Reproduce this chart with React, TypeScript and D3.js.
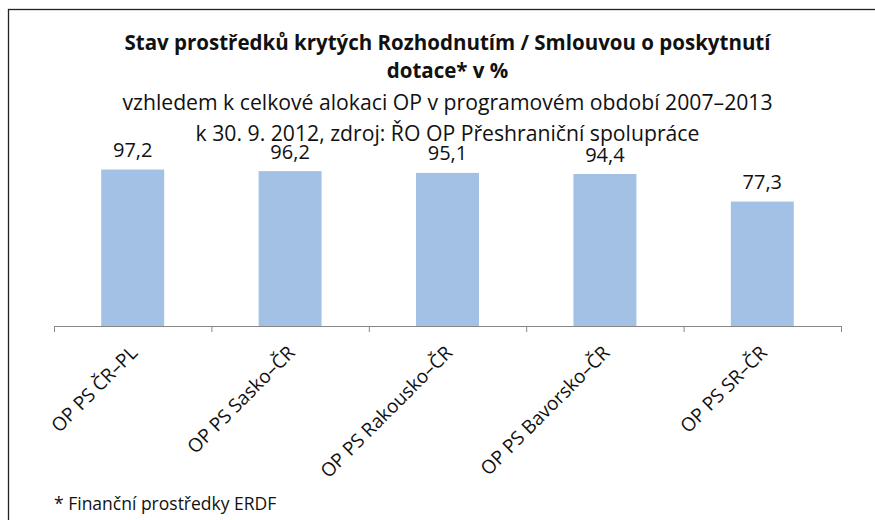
import React, { useEffect, useRef } from "react";
import * as d3 from "d3";

const categories = [
  "OP PS ČR–PL",
  "OP PS Sasko–ČR",
  "OP PS Rakousko–ČR",
  "OP PS Bavorsko–ČR",
  "OP PS SR–ČR",
];
const values = [97.2, 96.2, 95.1, 94.4, 77.3];
const titleLines = [
  "Stav prostředků krytých Rozhodnutím / Smlouvou o poskytnutí",
  "dotace* v %",
];
const subtitleLines = [
  "vzhledem k celkové alokaci OP v programovém období 2007–2013",
  "k 30. 9. 2012, zdroj: ŘO OP Přeshraniční spolupráce",
];
const footnote = "* Finanční prostředky ERDF";

const FONT = "'Open Sans', sans-serif";

const App = () => {
  const ref = useRef<SVGSVGElement>(null);

  useEffect(() => {
    const width = 875;
    const height = 520;
    const margin = { top: 165, right: 34, bottom: 194, left: 54 };

    const svg = d3.select(ref.current);
    svg.selectAll("*").remove();
    svg.attr("width", width).attr("height", height);

    // outer frame (runs off the right and bottom of the picture)
    svg
      .append("rect")
      .attr("x", 8.5)
      .attr("y", 9.5)
      .attr("width", 900)
      .attr("height", 600)
      .attr("fill", "white")
      .attr("stroke", "#222")
      .attr("stroke-width", 1.3);

    const x = d3
      .scaleBand()
      .domain(categories)
      .range([margin.left, width - margin.right])
      .paddingInner(0.6)
      .paddingOuter(0.3);

    const y = d3
      .scaleLinear()
      .domain([0, 100])
      .range([height - margin.bottom, margin.top]);

    const cx = (margin.left + width - margin.right) / 2;

    svg
      .selectAll("text.title")
      .data(titleLines)
      .join("text")
      .attr("class", "title")
      .attr("x", cx)
      .attr("y", (d, i) => 50 + i * 28)
      .attr("text-anchor", "middle")
      .attr("font-family", FONT)
      .attr("font-weight", "bold")
      .attr("font-size", 20.5)
      .attr("fill", "#111")
      .text((d) => d);

    svg
      .selectAll("text.subtitle")
      .data(subtitleLines)
      .join("text")
      .attr("class", "subtitle")
      .attr("x", cx)
      .attr("y", (d, i) => 110 + i * 30.5)
      .attr("text-anchor", "middle")
      .attr("font-family", FONT)
      .attr("font-size", 21.2)
      .attr("fill", "#111")
      .text((d) => d);

    svg
      .selectAll("rect.bar")
      .data(values)
      .join("rect")
      .attr("class", "bar")
      .attr("x", (d, i) => x(categories[i]))
      .attr("y", (d) => y(d))
      .attr("width", x.bandwidth())
      .attr("height", (d) => y(0) - y(d))
      .attr("fill", "#A3C1E5");

    svg
      .selectAll("text.value")
      .data(values)
      .join("text")
      .attr("class", "value")
      .attr("x", (d, i) => x(categories[i]) + x.bandwidth() / 2)
      .attr("y", (d) => y(d) - 12.5)
      .attr("text-anchor", "middle")
      .attr("font-family", FONT)
      .attr("font-size", 20)
      .attr("fill", "#111")
      .text((d) => d3.format(".1f")(d).replace(".", ","));

    // category axis with ticks at band boundaries
    const step = x.step();
    const bounds = d3.range(categories.length + 1).map((i) => margin.left + i * step);
    const axis = svg.append("g");
    axis
      .append("line")
      .attr("x1", margin.left)
      .attr("x2", width - margin.right)
      .attr("y1", y(0) + 0.5)
      .attr("y2", y(0) + 0.5)
      .attr("stroke", "#868686");
    axis
      .selectAll("line.tick")
      .data(bounds)
      .join("line")
      .attr("class", "tick")
      .attr("x1", (d) => d + 0.5)
      .attr("x2", (d) => d + 0.5)
      .attr("y1", y(0))
      .attr("y2", y(0) + 6)
      .attr("stroke", "#868686");

    axis
      .selectAll("text.cat")
      .data(categories)
      .join("text")
      .attr("class", "cat")
      .attr(
        "transform",
        (d) => `translate(${x(d) + x.bandwidth() / 2 + 6},${y(0) + 28}) rotate(-45)`
      )
      .attr("text-anchor", "end")
      .attr("font-family", FONT)
      .attr("font-size", 19)
      .attr("fill", "#111")
      .text((d) => d);

    svg
      .append("text")
      .attr("x", margin.left)
      .attr("y", 510)
      .attr("font-family", FONT)
      .attr("font-size", 17.5)
      .attr("fill", "#111")
      .text(footnote);
  }, []);

  return (
    <svg
      ref={ref}
      style={{ position: "absolute", left: 0, top: 0, display: "block" }}
    ></svg>
  );
};

export default App;
